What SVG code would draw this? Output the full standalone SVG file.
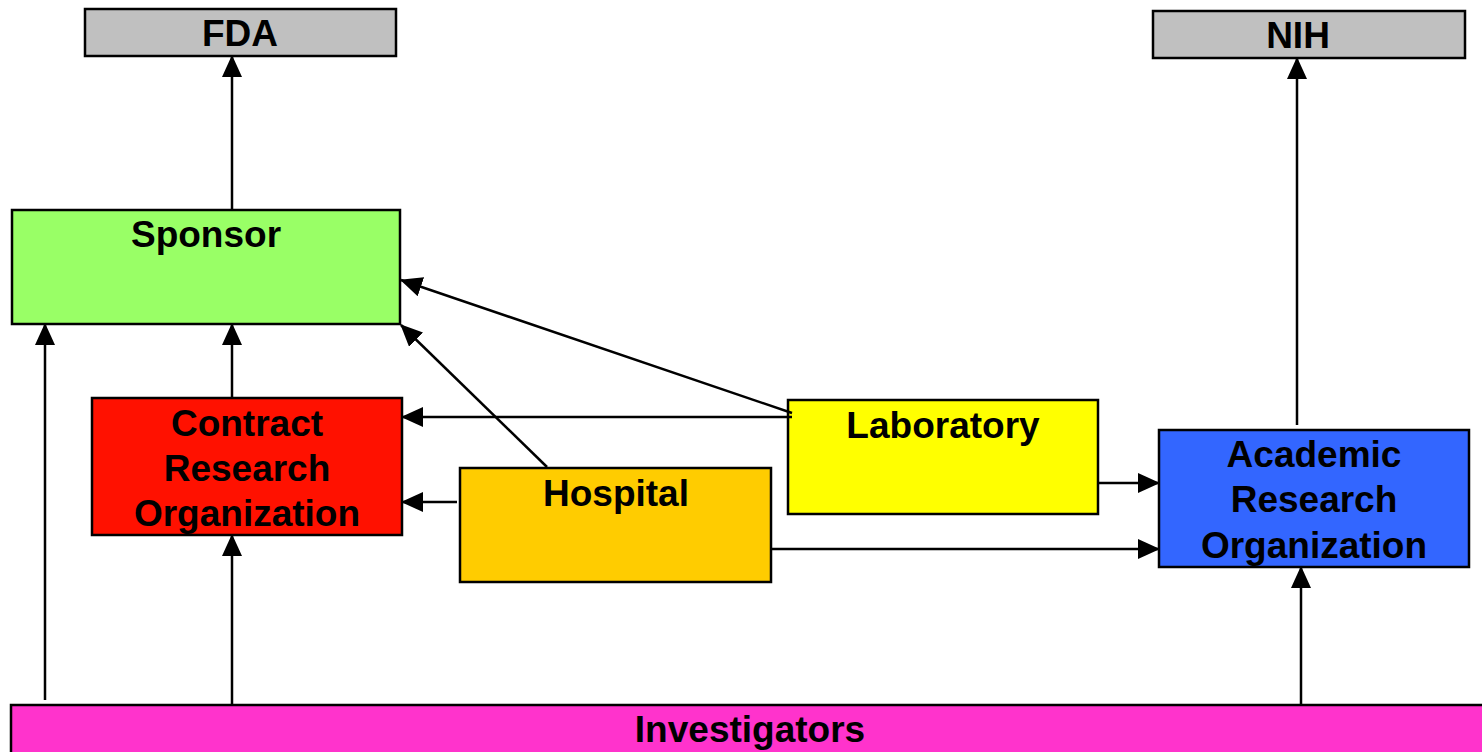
<svg xmlns="http://www.w3.org/2000/svg" width="1482" height="752" viewBox="0 0 1482 752">
<style>
.box{stroke:#000;stroke-width:2.5}
.t{font-family:"Liberation Sans",Arial,sans-serif;font-weight:bold;font-size:37px;text-anchor:middle;fill:#000}
.c{stroke:#000;stroke-width:2.5;fill:none;marker-end:url(#ah)}
</style>
<defs>
<marker id="ah" markerUnits="userSpaceOnUse" markerWidth="22" markerHeight="20" refX="21" refY="10" orient="auto" viewBox="0 0 22 20">
<path d="M0,0 L22,10 L0,20 z" fill="#000"/>
</marker>
</defs>
<rect width="1482" height="752" fill="#fff"/>
<g id="fda"><rect class="box" x="85" y="9" width="311" height="47" fill="#c0c0c0"/><text class="t" x="240" y="46">FDA</text></g>
<g id="nih"><rect class="box" x="1153" y="11" width="312" height="47" fill="#c0c0c0"/><text class="t" x="1298" y="48">NIH</text></g>
<g id="sponsor"><rect class="box" x="12" y="210" width="388" height="114" fill="#99ff66"/><text class="t" x="206" y="247">Sponsor</text></g>
<g id="cro"><rect class="box" x="92" y="398" width="310" height="137" fill="#ff1100"/><text class="t" x="247" y="436">Contract</text><text class="t" x="247" y="481">Research</text><text class="t" x="247" y="526">Organization</text></g>
<g id="laboratory"><rect class="box" x="788" y="400" width="310" height="114" fill="#ffff00"/><text class="t" x="943" y="438">Laboratory</text></g>
<g id="hospital"><rect class="box" x="460" y="468" width="311" height="114" fill="#ffcc00"/><text class="t" x="616" y="506">Hospital</text></g>
<g id="aro"><rect class="box" x="1159" y="430" width="310" height="137" fill="#3366ff"/><text class="t" x="1314" y="467">Academic</text><text class="t" x="1314" y="512">Research</text><text class="t" x="1314" y="558">Organization</text></g>
<g id="investigators"><rect class="box" x="11" y="705" width="1475" height="50" fill="#ff33cc"/><text class="t" x="750" y="742">Investigators</text></g>
<g id="connectors">
<line class="c" x1="232" y1="210" x2="232" y2="56"/>
<line class="c" x1="232" y1="398" x2="232" y2="324"/>
<line class="c" x1="45" y1="700" x2="45" y2="324"/>
<line class="c" x1="232" y1="705" x2="232" y2="535"/>
<line class="c" x1="1301" y1="705" x2="1301" y2="567"/>
<line class="c" x1="1297" y1="425" x2="1297" y2="58"/>
<line class="c" x1="792" y1="413" x2="401" y2="280"/>
<line class="c" x1="792" y1="417" x2="402" y2="417"/>
<line class="c" x1="457" y1="502" x2="402" y2="502"/>
<line class="c" x1="547" y1="467" x2="401" y2="325"/>
<line class="c" x1="1098" y1="483" x2="1159" y2="483"/>
<line class="c" x1="771" y1="549" x2="1159" y2="549"/>
</g>
</svg>
